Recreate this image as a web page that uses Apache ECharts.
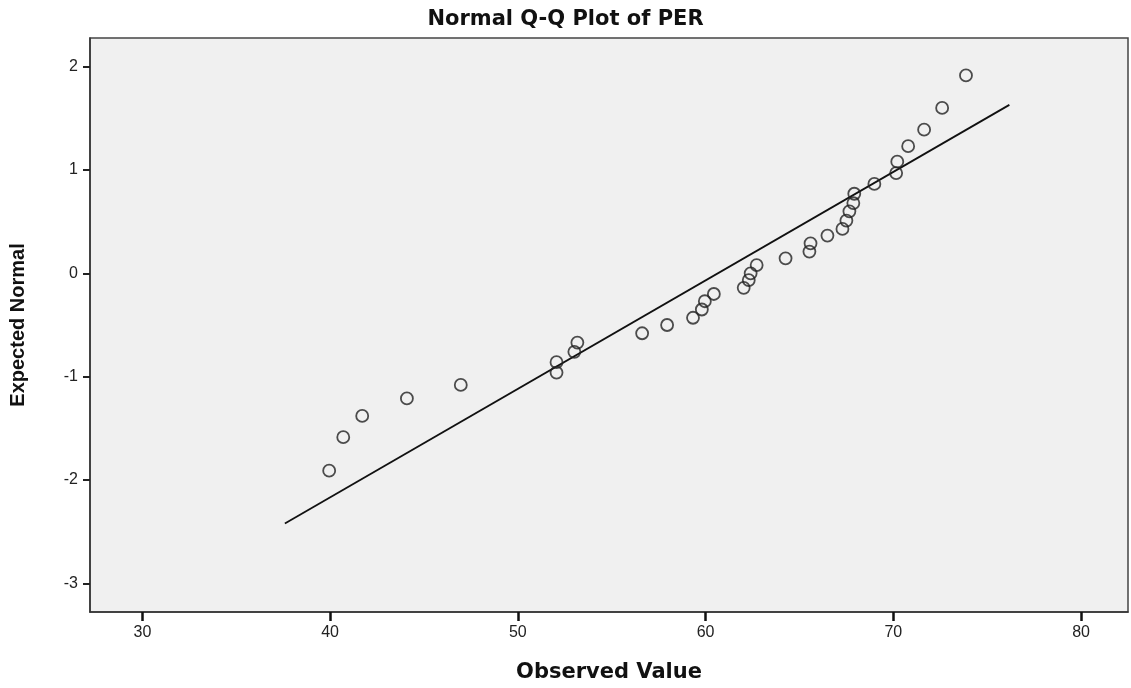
<!DOCTYPE html>
<html>
<head>
<meta charset="utf-8">
<script src="https://cdn.jsdelivr.net/npm/echarts@6/dist/echarts.min.js"></script>
<style>
html,body{margin:0;padding:0;background:#fff;}
#chart{width:1131px;height:688px;}
</style>
</head>
<body>
<div id="chart"></div>
<script>
// Observed values (x) and expected normal values (y)
var observed = [39.95, 40.70, 41.71, 44.09, 46.96, 52.06, 52.06, 53.01, 53.17, 56.62,
  57.95, 59.33, 59.80, 59.96, 60.44, 62.03, 62.30, 62.40, 62.72, 64.26,
  65.53, 65.59, 66.49, 67.29, 67.50, 67.66, 67.87, 67.92, 68.99, 70.15,
  70.21, 70.79, 71.64, 72.60, 73.87];
var expected = [-1.91, -1.585, -1.38, -1.21, -1.08, -0.96, -0.86, -0.76, -0.67, -0.58,
  -0.50, -0.43, -0.35, -0.27, -0.20, -0.14, -0.065, 0.0, 0.08, 0.145,
  0.21, 0.29, 0.365, 0.43, 0.51, 0.60, 0.68, 0.77, 0.865, 0.97,
  1.08, 1.23, 1.39, 1.60, 1.915];
// Reference line endpoints
var lineX = [37.59, 76.18];
var lineY = [-2.42, 1.63];
// Tick labels
var xTicks = [30, 40, 50, 60, 70, 80];
var yTicks = [-3, -2, -1, 0, 1, 2];

var pts = observed.map(function (v, i) { return [v, expected[i]]; });
var linePts = lineX.map(function (v, i) { return [v, lineY[i]]; });

var chart = echarts.init(document.getElementById('chart'), null, {renderer: 'canvas'});
var tickFont = {color: '#222', fontSize: 16, fontFamily: 'Liberation Sans, Arial, sans-serif'};
chart.setOption({
  animation: false,
  backgroundColor: '#ffffff',
  title: {
    text: 'Normal Q-Q Plot of PER',
    left: 'center',
    top: 4,
    textStyle: {fontSize: 21, fontWeight: 'bold', color: '#111', fontFamily: 'DejaVu Sans, Liberation Sans, sans-serif'}
  },
  grid: {
    left: 87, right: 3, top: 38, bottom: 70,
    show: true,
    backgroundColor: '#f0f0f0',
    borderColor: '#444',
    borderWidth: 1.5
  },
  xAxis: {
    type: 'value',
    min: 27.21, max: 82.5,
    name: 'Observed Value',
    nameLocation: 'middle',
    nameGap: 50,
    nameTextStyle: {fontSize: 21, fontWeight: 'bold', color: '#111', fontFamily: 'DejaVu Sans, Liberation Sans, sans-serif'},
    axisLine: {show: true, onZero: false, lineStyle: {color: '#333', width: 1.5}},
    axisTick: {show: true, inside: false, length: 9, lineStyle: {color: '#111', width: 2.5}, customValues: xTicks},
    axisLabel: {customValues: xTicks, margin: 13, color: tickFont.color, fontSize: tickFont.fontSize, fontFamily: tickFont.fontFamily},
    splitLine: {show: false}
  },
  yAxis: {
    type: 'value',
    min: -3.277, max: 2.277,
    name: 'Expected Normal',
    nameLocation: 'middle',
    nameGap: 62,
    nameRotate: 90,
    nameTextStyle: {fontSize: 20, fontWeight: 'bold', color: '#111', fontFamily: 'Liberation Sans Narrow, Liberation Sans, Arial, sans-serif'},
    axisLine: {show: true, onZero: false, lineStyle: {color: '#333', width: 1.5}},
    axisTick: {show: true, inside: false, length: 7, lineStyle: {color: '#222', width: 2}, customValues: yTicks},
    axisLabel: {customValues: yTicks, margin: 12, color: tickFont.color, fontSize: tickFont.fontSize, fontFamily: tickFont.fontFamily},
    splitLine: {show: false}
  },
  series: [
    {
      type: 'line',
      data: linePts,
      symbol: 'none',
      lineStyle: {color: '#111', width: 1.8},
      silent: true,
      z: 2
    },
    {
      type: 'scatter',
      data: pts,
      symbol: 'circle',
      symbolSize: 12,
      itemStyle: {color: 'rgba(0,0,0,0)', borderColor: '#222', borderWidth: 1.8},
      z: 3
    }
  ]
});
</script>
</body>
</html>
